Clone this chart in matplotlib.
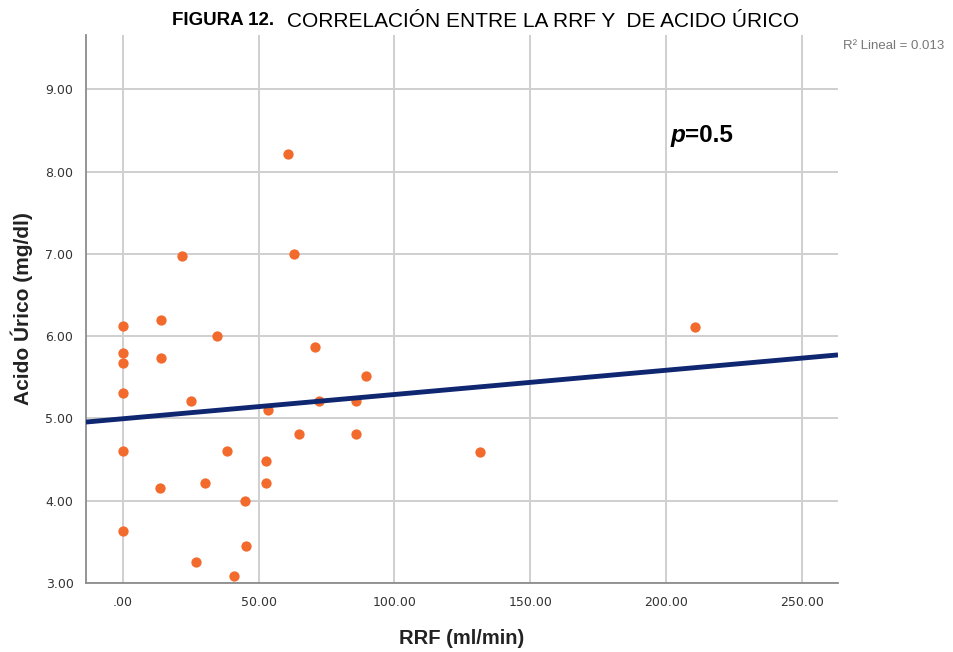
import numpy as np
import matplotlib.pyplot as plt
from matplotlib.ticker import FuncFormatter

# RRF (ml/min) vs acido urico (mg/dl)
rrf = [60.7, 21.6, 62.9, 0, 14.0, 34.8, 0, 0, 14.0, 70.7,
       89.4, 0, 25.2, 72.2, 85.7, 53.3, 64.7, 85.7, 0, 38.3,
       131.7, 52.6, 13.6, 30.1, 52.7, 45.1, 0, 45.2, 26.8, 40.9,
       210.8]
acido = [8.21, 6.97, 7.00, 6.12, 6.20, 6.00, 5.80, 5.67, 5.73, 5.87,
         5.51, 5.31, 5.21, 5.21, 5.21, 5.10, 4.81, 4.81, 4.61, 4.61,
         4.59, 4.48, 4.16, 4.21, 4.21, 4.00, 3.63, 3.45, 3.26, 3.08,
         6.11]
xticks = [0, 50, 100, 150, 200, 250]
yticks = [3, 4, 5, 6, 7, 8, 9]

x = np.array(rrf)
y = np.array(acido)
m, b = np.polyfit(x, y, 1)

ARIAL = ['Liberation Sans', 'DejaVu Sans']

fig = plt.figure(figsize=(9.54, 6.52), dpi=100)
ax = fig.add_axes([0.0901, 0.1058, 0.7883, 0.8405])

xmin, xmax = -13.6, 263.4
ax.set_xlim(xmin, xmax)
ax.set_ylim(3.0, 9.66)

ax.set_xticks(xticks)
ax.set_yticks(yticks)
ax.xaxis.set_major_formatter(FuncFormatter(lambda v, p: '.00' if v == 0 else '%.2f' % v))
ax.yaxis.set_major_formatter(FuncFormatter(lambda v, p: '%.2f' % v))
ax.tick_params(length=0, labelsize=9, labelcolor='#333333', pad=9)

ax.grid(True, color='#cfcfcf', linewidth=1.4)
ax.set_axisbelow(True)
for s in ['top', 'right']:
    ax.spines[s].set_visible(False)
for s in ['left', 'bottom']:
    ax.spines[s].set_color('#8c8c8c')
    ax.spines[s].set_linewidth(1.3)

ax.scatter(x, y, s=55, color='#f26a2c', zorder=3, linewidths=0)
lx = np.array([xmin, xmax])
ax.plot(lx, m * lx + b, color='#0f2670', linewidth=3.5, zorder=4, solid_capstyle='butt')

# axis titles
fig.text(462 / 954, 1 - 638 / 652, 'RRF (ml/min)', fontsize=14.5, fontweight='bold',
         family=ARIAL, color='#222222', ha='center', va='center')
fig.text(22 / 954, 1 - 309 / 652, 'Acido Úrico (mg/dl)', fontsize=15, fontweight='bold',
         family=ARIAL, color='#222222', ha='center', va='center', rotation=90)

# p value
fig.text(671 / 954, 1 - 142 / 652, 'p', fontsize=17.5, fontweight='bold', style='italic',
         family=ARIAL, ha='left', va='baseline')
fig.text(685 / 954, 1 - 142 / 652, '=0.5', fontsize=17.5, fontweight='bold',
         family=ARIAL, ha='left', va='baseline')

fig.text(843 / 954, 1 - 46 / 652, 'R² Lineal = 0.013', fontsize=9.5, color='#777777',
         family=ARIAL, ha='left', va='center')
fig.text(172 / 954, 1 - 25 / 652, 'FIGURA 12.', fontsize=13.5, fontweight='bold',
         family=ARIAL, ha='left', va='baseline')
fig.text(287 / 954, 1 - 27 / 652, 'CORRELACIÓN ENTRE LA RRF Y  DE ACIDO ÚRICO', fontsize=15,
         family=ARIAL, ha='left', va='baseline')

fig.savefig('out.png', dpi=100)
